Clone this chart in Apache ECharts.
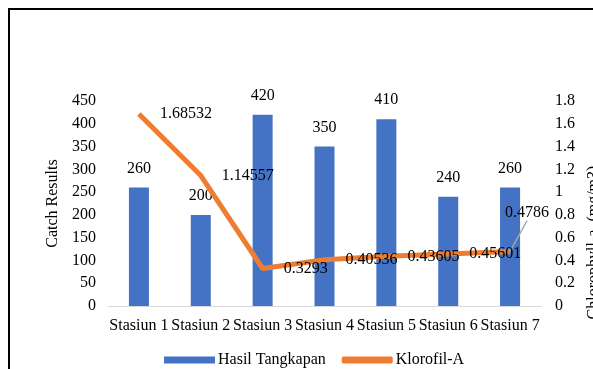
<!DOCTYPE html>
<html>
<head>
    <meta charset="utf-8">
    <title>Hasil Tangkapan dan Klorofil-A</title>
    <script src="https://cdn.jsdelivr.net/npm/echarts@6/dist/echarts.min.js"></script>
    <style>
        html, body { margin: 0; padding: 0; background: #fff; }
        #chart { width: 593px; height: 369px; }
    </style>
</head>
<body>
<div id="chart"></div>
<script>
    // data
    var stations = ['Stasiun 1', 'Stasiun 2', 'Stasiun 3', 'Stasiun 4', 'Stasiun 5', 'Stasiun 6', 'Stasiun 7'];
    var catchValues = [260, 200, 420, 350, 410, 240, 260];
    var chlorophyll = [1.68532, 1.14557, 0.3293, 0.40536, 0.43605, 0.45601, 0.4786];

    var font = 'Liberation Serif';
    var fs = 16;
    var last = chlorophyll.length - 1;
    var chart = echarts.init(document.getElementById('chart'));

    // only the last label has a leader line
    var lineData = chlorophyll.map(function (v, i) {
        return i === last ? { value: v, labelLine: { show: true } } : v;
    });

    var option = {
        animation: false,
        textStyle: { fontFamily: font, color: '#000' },
        graphic: [{
            type: 'rect',
            shape: { x: 9, y: 9, width: 640, height: 420 },
            style: { fill: null, stroke: '#000', lineWidth: 2 },
            z: -1
        }],
        grid: { left: 108, right: 52, top: 101, bottom: 63, outerBoundsMode: 'none' },
        legend: {
            left: 159,
            top: 347,
            itemWidth: 51,
            itemHeight: 7,
            itemGap: 16,
            textStyle: { fontFamily: font, fontSize: fs, color: '#000', padding: [0, 0, 0, -2] },
            data: [
                { name: 'Hasil Tangkapan', icon: 'rect' },
                { name: 'Klorofil-A', icon: 'roundRect' }
            ]
        },
        xAxis: {
            type: 'category',
            data: stations,
            axisLine: { lineStyle: { color: '#d9d9d9', width: 1 } },
            axisTick: { show: false },
            axisLabel: { fontFamily: font, fontSize: fs, color: '#000', margin: 12, interval: 0 }
        },
        yAxis: [{
            type: 'value',
            min: 0,
            max: 450,
            interval: 50,
            name: 'Catch Results',
            nameLocation: 'middle',
            nameGap: 46,
            nameTextStyle: { fontFamily: font, fontSize: fs, color: '#000' },
            splitLine: { show: false },
            axisLine: { show: false },
            axisTick: { show: false },
            axisLabel: { fontFamily: font, fontSize: fs, color: '#000', margin: 12 }
        }, {
            type: 'value',
            min: 0,
            max: 1.8,
            interval: 0.2,
            position: 'right',
            name: 'Chlorophyll-a\u00a0 (mg/m3)',
            nameLocation: 'middle',
            nameGap: 44,
            nameTextStyle: { fontFamily: font, fontSize: fs, color: '#000', padding: [0, 78, 0, 0] },
            splitLine: { show: false },
            axisLine: { show: false },
            axisTick: { show: false },
            axisLabel: { fontFamily: font, fontSize: fs, color: '#000', margin: 14 }
        }],
        series: [{
            name: 'Hasil Tangkapan',
            type: 'bar',
            data: catchValues,
            barWidth: 20,
            itemStyle: { color: '#4472C4' },
            label: {
                show: true,
                position: 'top',
                distance: 11,
                fontFamily: font,
                fontSize: fs,
                color: '#000'
            }
        }, {
            name: 'Klorofil-A',
            type: 'line',
            yAxisIndex: 1,
            data: lineData,
            symbol: 'circle',
            symbolSize: 0.1,
            lineStyle: { color: '#ED7D31', width: 5 },
            itemStyle: { color: '#ED7D31' },
            label: {
                show: true,
                position: 'right',
                distance: 21,
                offset: [0, 2],
                fontFamily: font,
                fontSize: fs,
                color: '#000'
            },
            labelLine: {
                show: false,
                lineStyle: { color: '#a6a6a6', width: 1.5 }
            },
            labelLayout: function (params) {
                // the last label sits up and left of its point
                if (params.dataIndex === last) {
                    return { dx: -26, dy: -39 };
                }
                return {};
            }
        }]
    };

    chart.setOption(option);
</script>
</body>
</html>
